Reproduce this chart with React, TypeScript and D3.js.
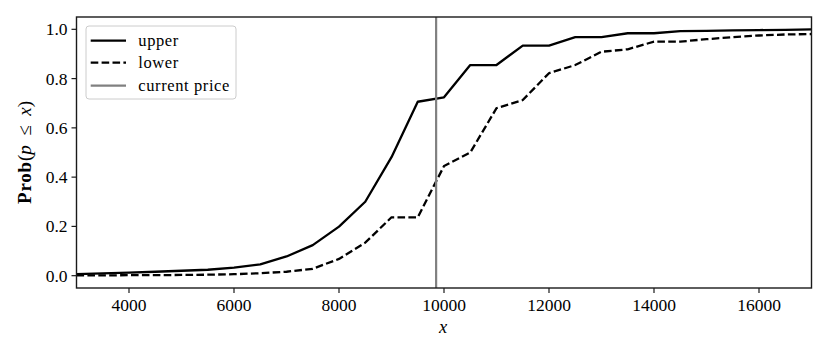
import React from "react";
import * as d3 from "d3";

const xValues = [3000, 3500, 4000, 4500, 5000, 5500, 6000, 6500, 7000, 7500, 8000, 8500, 9000, 9500, 10000, 10500, 11000, 11500, 12000, 12500, 13000, 13500, 14000, 14500, 15000, 15500, 16000, 16500, 17000];
const upperValues = [0.006, 0.009, 0.012, 0.016, 0.020, 0.024, 0.033, 0.046, 0.078, 0.124, 0.199, 0.300, 0.481, 0.706, 0.724, 0.855, 0.855, 0.934, 0.934, 0.968, 0.968, 0.984, 0.984, 0.993, 0.994, 0.996, 0.997, 0.998, 1.0];
const lowerValues = [0.001, 0.001, 0.002, 0.002, 0.003, 0.004, 0.006, 0.010, 0.016, 0.028, 0.068, 0.134, 0.237, 0.237, 0.445, 0.500, 0.680, 0.713, 0.822, 0.855, 0.909, 0.919, 0.950, 0.950, 0.960, 0.968, 0.975, 0.979, 0.981];
const currentPrice = 9850;
const xTicks = [4000, 6000, 8000, 10000, 12000, 14000, 16000];
const yTicks = [0.0, 0.2, 0.4, 0.6, 0.8, 1.0];
const legendLabels = ["upper", "lower", "current price"];

const W = 830;
const H = 356;
const L = 76.5;
const R = 811.5;
const T = 17;
const B = 288;
const FONT = "'Liberation Serif', 'DejaVu Serif', serif";
const FS = 17.5;

export default function App() {
  const x = d3.scaleLinear().domain([3000, 17000]).range([L, R]);
  const y = d3.scaleLinear().domain([-0.05, 1.05]).range([B, T]);
  const line = d3
    .line<[number, number]>()
    .x((d) => x(d[0]))
    .y((d) => y(d[1]));
  const upperPath = line(xValues.map((v, i) => [v, upperValues[i]]) as [number, number][]) || "";
  const lowerPath = line(xValues.map((v, i) => [v, lowerValues[i]]) as [number, number][]) || "";

  const legendX = 86;
  const legendY = 26;
  const rowY = [40.7, 62.7, 85.7];

  return (
    <svg
      width={W}
      height={H}
      style={{ position: "absolute", left: 0, top: 0, background: "#fff" }}
      fontFamily={FONT}
    >
      <rect x={0} y={0} width={W} height={H} fill="#fff" />
      <defs>
        <clipPath id="plotclip">
          <rect x={L} y={T} width={R - L} height={B - T} />
        </clipPath>
      </defs>
      <g clipPath="url(#plotclip)">
        <path d={upperPath} fill="none" stroke="#000" strokeWidth={2.3} strokeLinejoin="round" />
        <path d={lowerPath} fill="none" stroke="#000" strokeWidth={2.3} strokeDasharray="7.6,3.3" />
        <line x1={x(currentPrice)} x2={x(currentPrice)} y1={T} y2={B} stroke="#808080" strokeWidth={2.2} />
      </g>
      {/* spines */}
      <rect x={L} y={T} width={R - L} height={B - T} fill="none" stroke="#1a1a1a" strokeWidth={1.4} />
      {/* x ticks */}
      {xTicks.map((t) => (
        <g key={t}>
          <line x1={x(t)} x2={x(t)} y1={B} y2={B + 5} stroke="#1a1a1a" strokeWidth={1.2} />
          <text x={x(t)} y={B + 23} textAnchor="middle" fontSize={FS} fill="#000">
            {t}
          </text>
        </g>
      ))}
      {/* y ticks */}
      {yTicks.map((t) => (
        <g key={t}>
          <line x1={L - 5} x2={L} y1={y(t)} y2={y(t)} stroke="#1a1a1a" strokeWidth={1.2} />
          <text x={L - 9} y={y(t) + 6} textAnchor="end" fontSize={FS} fill="#000">
            {t.toFixed(1)}
          </text>
        </g>
      ))}
      {/* axis labels */}
      <text x={(L + R) / 2 - 1} y={B + 45} textAnchor="middle" fontSize={FS + 1} fontStyle="italic">
        x
      </text>
      <text
        transform={`translate(31,${(T + B) / 2}) rotate(-90)`}
        textAnchor="middle"
        fontSize={19}
      >
        <tspan fontWeight="bold" letterSpacing={0.8}>Prob</tspan>
        <tspan>(</tspan>
        <tspan fontStyle="italic">p</tspan>
        <tspan>{"\u2002≤\u2002"}</tspan>
        <tspan fontStyle="italic">x</tspan>
        <tspan>)</tspan>
      </text>
      {/* legend */}
      <rect
        x={legendX}
        y={legendY}
        width={150}
        height={73}
        rx={3}
        fill="#fff"
        fillOpacity={0.8}
        stroke="#ccc"
        strokeWidth={1}
      />
      <line x1={90.7} x2={126} y1={rowY[0]} y2={rowY[0]} stroke="#000" strokeWidth={2.3} />
      <line x1={90.7} x2={126} y1={rowY[1]} y2={rowY[1]} stroke="#000" strokeWidth={2.3} strokeDasharray="7.6,3.3" />
      <line x1={90.7} x2={126} y1={rowY[2]} y2={rowY[2]} stroke="#808080" strokeWidth={2.2} />
      {legendLabels.map((lab, i) => (
        <text key={lab} x={138.3} y={rowY[i] + 5} fontSize={16.5} letterSpacing={0.6} fill="#000">
          {lab}
        </text>
      ))}
    </svg>
  );
}
